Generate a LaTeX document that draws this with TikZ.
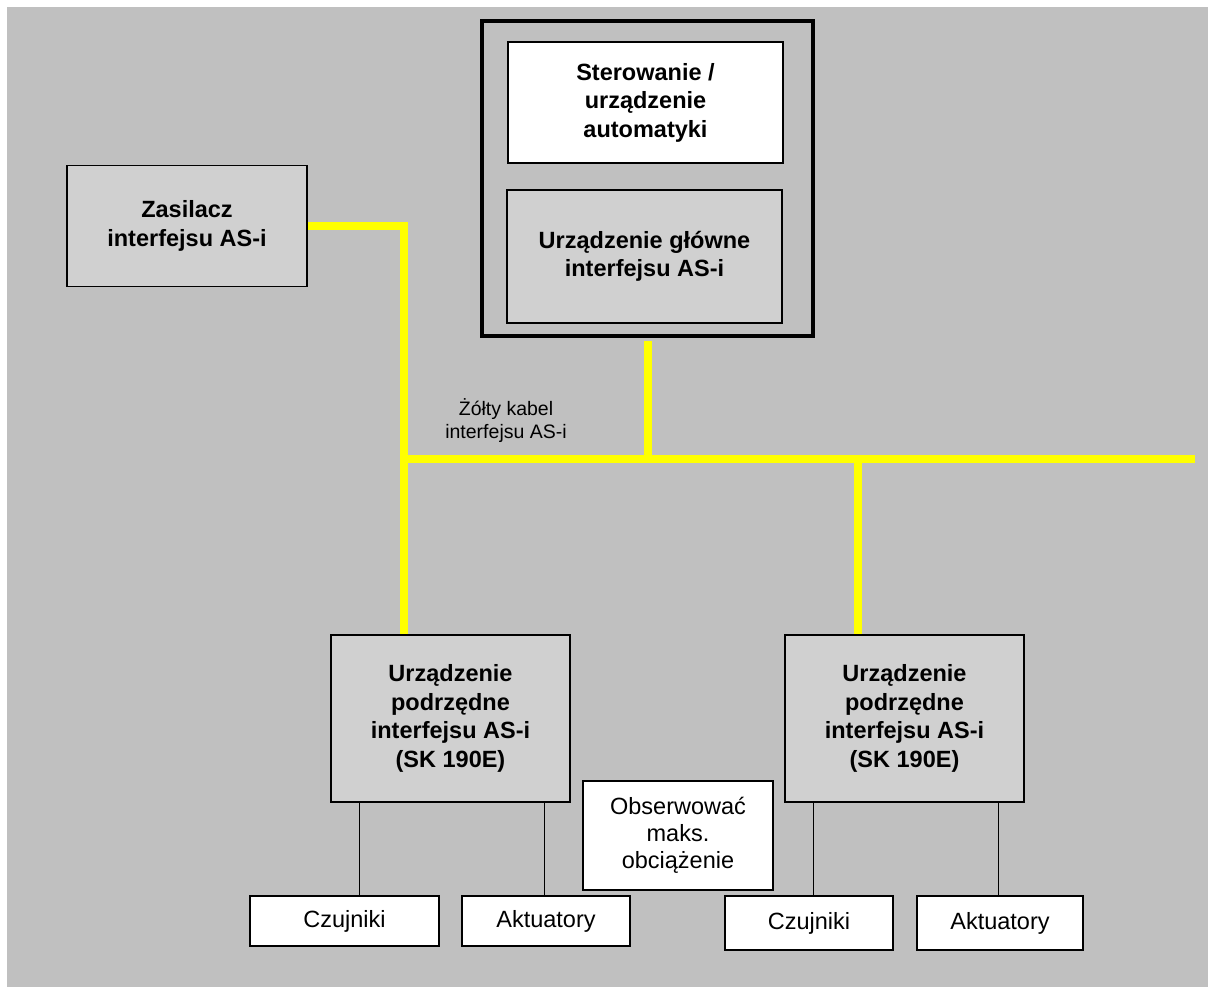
\documentclass[tikz,border=0pt]{standalone}
\usepackage{fontspec}
\setmainfont{Liberation Sans}
\usepackage{tikz}
\usetikzlibrary{calc, positioning}
\usepackage{xcolor}
\definecolor{bgGray}{RGB}{192, 192, 192}
\definecolor{boxGray}{RGB}{208, 208, 208}
\definecolor{cable}{RGB}{255, 255, 0}

\begin{document}
\begin{tikzpicture}[x=1pt, y=-1pt,
    unit/.style={draw, line width=1.5pt, fill=boxGray, align=center, inner sep=0pt,
      font=\fontsize{23.5}{28.5}\selectfont\bfseries},
    field/.style={draw, line width=1.5pt, fill=white, align=center, inner sep=0pt,
      font=\fontsize{23.5}{28}\selectfont},
    bus/.style={cable, line width=8pt},
    wire/.style={black, line width=1pt}]
  \useasboundingbox (0, 0) rectangle (1208, 987);
  \fill[bgGray] (7, 7) rectangle (1208, 987);

  % master station
  \node[draw, line width=4pt, minimum width=331, minimum height=315] (master) at (647.5, 178.5) {};
  \node[unit, fill=white, minimum width=275, minimum height=121] (ctrl) at (645.5, 102.5)
    {Sterowanie /\\urządzenie\\automatyki};
  \node[unit, minimum width=275, minimum height=133] (mastercore) at (644.5, 256.5)
    {Urządzenie główne\\interfejsu AS-i};

  % power supply
  \node[unit, minimum width=240, minimum height=121] (psu) at (187, 226)
    {Zasilacz\\interfejsu AS-i};

  % slaves
  \node[unit, minimum width=239, minimum height=167] (slave1) at (450.5, 718.5)
    {Urządzenie\\podrzędne\\interfejsu AS-i\\(SK 190E)};
  \node[unit, minimum width=239, minimum height=167] (slave2) at (904.5, 718.5)
    {Urządzenie\\podrzędne\\interfejsu AS-i\\(SK 190E)};

  \node[field, minimum width=190, minimum height=109, font=\fontsize{23.5}{27}\selectfont] (note) at (678, 835.5)
    {Obserwować\\maks.\\obciążenie};

  % sensors and actuators
  \node[field, minimum width=189, minimum height=50] (sens1) at (344.5, 921) {Czujniki};
  \node[field, minimum width=168, minimum height=50] (act1) at (546, 921) {Aktuatory};
  \node[field, minimum width=168, minimum height=54] (sens2) at (809, 923) {Czujniki};
  \node[field, minimum width=166, minimum height=54] (act2) at (1000, 923) {Aktuatory};

  % yellow cable
  \coordinate (busL) at (404, 459);
  \coordinate (busR) at (1195, 459);
  \coordinate (tap5) at (858, 459);
  \draw[bus] (psu.east) -| (slave1.north -| busL);
  \draw[bus] (busL) -- (busR);
  \draw[bus] ([yshift=-3pt]master.south) -- (master.south |- busL);
  \draw[bus] (tap5) -- (tap5 |- slave2.north);
  \node[font=\fontsize{19.5}{23}\selectfont, align=center] (cablelabel) at (506, 421)
    {Żółty kabel\\interfejsu AS-i};

  % wires to field devices
  \coordinate (w1) at (359, 850);
  \coordinate (w2) at (544, 850);
  \coordinate (w3) at (813, 850);
  \coordinate (w4) at (998, 850);
  \draw[wire] (slave1.south -| w1) -- (sens1.north -| w1);
  \draw[wire] (slave1.south -| w2) -- (act1.north -| w2);
  \draw[wire] (slave2.south -| w3) -- (sens2.north -| w3);
  \draw[wire] (slave2.south -| w4) -- (act2.north -| w4);
\end{tikzpicture}
\end{document}
